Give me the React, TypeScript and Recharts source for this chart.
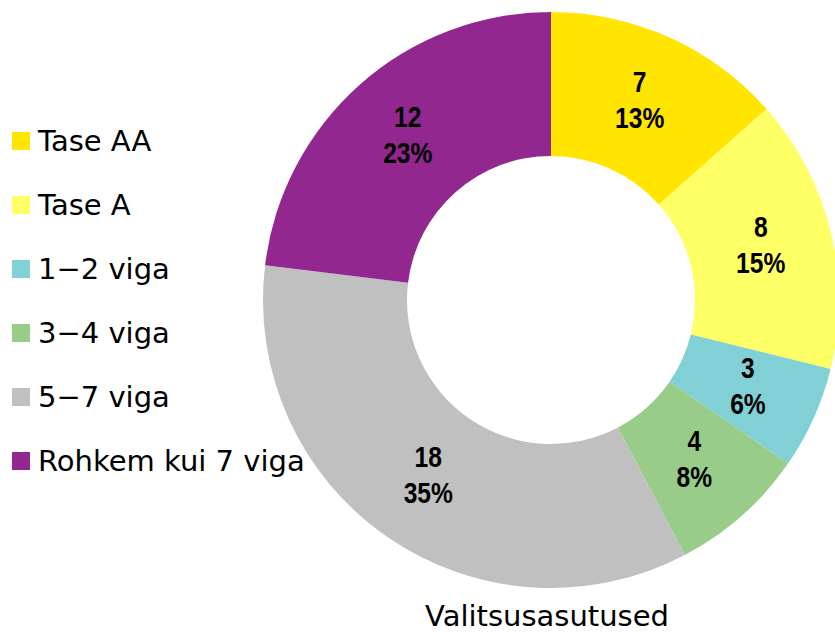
import { PieChart, Pie, Cell, Legend } from 'recharts';

const categories = ['Tase AA', 'Tase A', '1\u22122 viga', '3\u22124 viga', '5\u22127 viga', 'Rohkem kui 7 viga'];
const counts = [7, 8, 3, 4, 18, 12];
const colors = ['#FFE500', '#FFFF66', '#80D0D6', '#99CC88', '#C0C0C0', '#92278F'];
const chartTitle = 'Valitsusasutused';

const data = categories.map((name, i) => ({ name, value: counts[i] }));

const RAD = Math.PI / 180;

// narrow bold label, two lines: count and share
function SliceLabel(props: any) {
    const { cx, cy, midAngle, innerRadius, outerRadius, value, percent } = props;
    const r = (innerRadius + outerRadius) / 2;
    const x = cx + r * Math.cos(-midAngle * RAD);
    const y = cy + r * Math.sin(-midAngle * RAD);
    return (
        <text x={x} textAnchor="middle" fill="#000" fontWeight="bold" fontSize={30}
            fontFamily="'Liberation Sans', Arial, sans-serif"
            transform={`translate(${x},0) scale(0.82,1) translate(${-x},0)`}>
            <tspan x={x} y={y - 11}>{value}</tspan>
            <tspan x={x} y={y + 25}>{Math.round(percent * 100)}%</tspan>
        </text>
    );
}

function LegendList({ payload }: any) {
    return (
        <div>
            {(payload || []).map((entry: any, i: number) => (
                <div key={i} style={{ height: 64, display: 'flex', alignItems: 'center' }}>
                    <span style={{ width: 18, height: 18, background: entry.color, marginRight: 8, display: 'inline-block' }} />
                    <span style={{ fontSize: 29, fontFamily: "'DejaVu Sans', sans-serif", color: '#000', whiteSpace: 'nowrap' }}>{entry.value}</span>
                </div>
            ))}
        </div>
    );
}

export default function App() {
    return (
        <div style={{ position: 'absolute', left: 0, top: 0, width: 835, height: 633, background: '#fff', overflow: 'hidden' }}>
            <PieChart width={835} height={633} margin={{ top: 0, right: 0, bottom: 0, left: 0 }}>
                <Pie data={data} dataKey="value" nameKey="name" cx={551} cy={300}
                    innerRadius={144} outerRadius={288} startAngle={90} endAngle={-270}
                    stroke="none" label={SliceLabel} labelLine={false} isAnimationActive={false}>
                    {data.map((d, i) => <Cell key={d.name} fill={colors[i]} />)}
                </Pie>
                <Legend content={LegendList} layout="vertical"
                    itemSorter={(item: any) => categories.indexOf(item.value)}
                    wrapperStyle={{ left: 12, top: 109, width: 320 }} />
            </PieChart>
            <div style={{ position: 'absolute', left: 347, width: 400, top: 601, textAlign: 'center', fontSize: 29, fontFamily: "'DejaVu Sans', sans-serif", color: '#000', lineHeight: '30px' }}>
                {chartTitle}
            </div>
        </div>
    );
}
